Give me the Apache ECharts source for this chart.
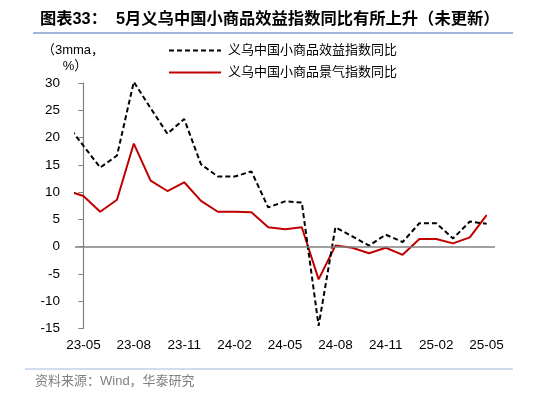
<!DOCTYPE html>
<html>
<head>
<meta charset="utf-8">
<script src="https://cdn.jsdelivr.net/npm/echarts@6/dist/echarts.min.js"></script>
<style>
html, body { margin: 0; padding: 0; background: #fff; }
#main { width: 535px; height: 393px; }
</style>
</head>
<body>
<div id="main"></div>
<script>
// months, first one (23-04) only shows as the clipped stub at the left edge
var months = ['23-04','23-05','23-06','23-07','23-08','23-09','23-10','23-11','23-12',
    '24-01','24-02','24-03','24-04','24-05','24-06','24-07','24-08','24-09','24-10','24-11','24-12',
    '25-01','25-02','25-03','25-04','25-05'];
var xiaoyi = [22.5, 18.5, 14.5, 16.7, 30.2, 25.4, 20.7, 23.4, 15.1,
    12.85, 12.85, 13.8, 7.2, 8.3, 8.1, -14.5, 3.55, 1.9, 0.2, 2.2, 0.85,
    4.3, 4.3, 1.5, 4.6, 4.2];
var jingqi = [10.3, 9.3, 6.4, 8.6, 18.9, 12.1, 10.2, 11.8, 8.4,
    6.4, 6.4, 6.3, 3.55, 3.2, 3.55, -6.0, 0.2, -0.2, -1.2, -0.2, -1.5,
    1.4, 1.4, 0.6, 1.7, 5.8];
var names = ['义乌中国小商品效益指数同比', '义乌中国小商品景气指数同比'];

var font = "'Liberation Sans', 'Noto Sans CJK SC', sans-serif";

function toPoints(arr) {
    return arr.map(function (v, i) { return [i - 1, v]; });
}

var myChart = echarts.init(document.getElementById('main'));
var option = {
    backgroundColor: '#fff',
    animation: false,
    textStyle: { fontFamily: font },
    title: {
        text: '图表33：  5月义乌中国小商品效益指数同比有所上升（未更新）',
        left: 35,
        top: 6,
        textStyle: { fontSize: 16.3, fontWeight: 'bold', color: '#000', fontFamily: font }
    },
    graphic: [
        { type: 'line', shape: { x1: 33, y1: 33, x2: 513, y2: 33 }, style: { stroke: '#7f9fcf', lineWidth: 1.5 } },
        { type: 'line', shape: { x1: 25, y1: 369, x2: 513, y2: 369 }, style: { stroke: '#a3bad8', lineWidth: 1 } },
        { type: 'text', x: 73, y: 50, style: { text: '（3mma，', fill: '#000', font: '13px ' + font, textAlign: 'center', textVerticalAlign: 'middle' } },
        { type: 'text', x: 75, y: 66, style: { text: '%）', fill: '#000', font: '13px ' + font, textAlign: 'center', textVerticalAlign: 'middle' } },
        { type: 'text', x: 35, y: 381, style: { text: '资料来源：Wind，华泰研究', fill: '#808080', font: '13px ' + font, textVerticalAlign: 'middle' } }
    ],
    legend: {
        orient: 'vertical',
        left: 168,
        top: 44,
        padding: 0,
        itemWidth: 52,
        itemHeight: 14,
        itemGap: 9,
        itemStyle: { opacity: 0 },
        textStyle: { fontSize: 13, color: '#000', padding: [0, 0, 0, 2] },
        data: names
    },
    grid: { left: 75, right: 40, top: 83, bottom: 64.5 },
    xAxis: [
        {
            type: 'value',
            min: -0.5,
            max: 24.5,
            show: false
        },
        {
            type: 'category',
            position: 'bottom',
            boundaryGap: true,
            data: months.slice(1),
            axisLine: { show: false },
            axisTick: { show: false },
            axisLabel: { interval: 2, margin: 10, fontSize: 13.5, color: '#000' }
        }
    ],
    yAxis: {
        type: 'value',
        min: -15,
        max: 30,
        interval: 5,
        splitLine: { show: false },
        axisLine: { show: true, lineStyle: { color: '#808080', width: 1.2 } },
        axisTick: { show: true, inside: false, length: 5, lineStyle: { color: '#808080' } },
        axisLabel: { margin: 15, fontSize: 13.5, color: '#000' }
    },
    series: [
        {
            name: names[0],
            type: 'line',
            xAxisIndex: 0,
            symbol: 'none',
            clip: true,
            lineStyle: { color: '#000', width: 2, type: [5, 3] },
            itemStyle: { color: '#000' },
            data: toPoints(xiaoyi),
            markLine: {
                silent: true,
                symbol: 'none',
                label: { show: false },
                lineStyle: { color: '#808080', type: 'solid', width: 1.5 },
                data: [{ yAxis: 0 }]
            },
            z: 3
        },
        {
            name: names[1],
            type: 'line',
            xAxisIndex: 0,
            symbol: 'none',
            clip: true,
            lineStyle: { color: '#c00000', width: 2 },
            itemStyle: { color: '#c00000' },
            data: toPoints(jingqi),
            z: 2
        }
    ]
};
myChart.setOption(option);
</script>
</body>
</html>
